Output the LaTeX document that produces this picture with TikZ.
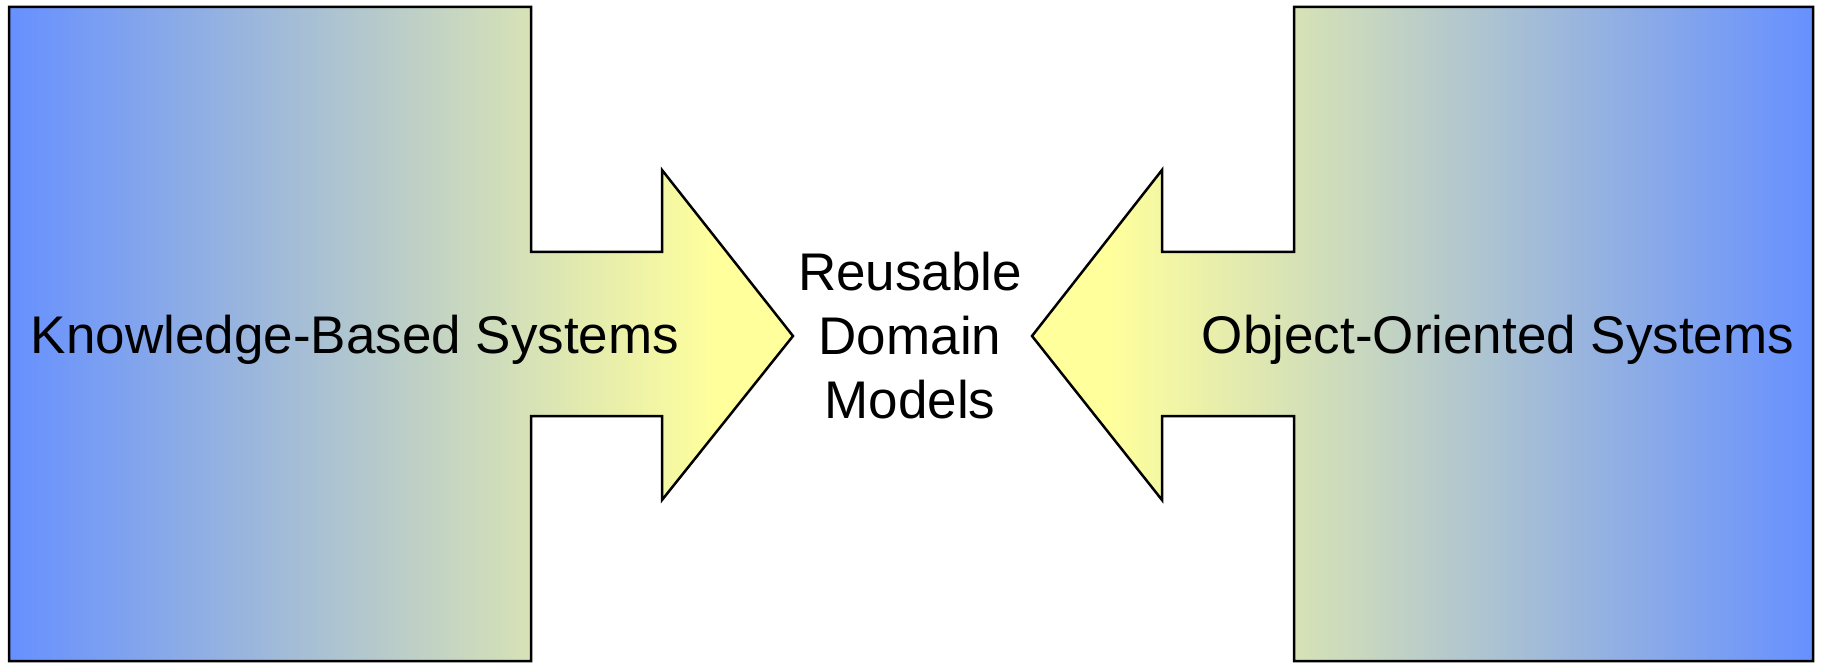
\documentclass[tikz,border=0pt]{standalone}
\usepackage{fontspec}
\setmainfont{Liberation Sans}
\definecolor{sysblue}{HTML}{6690FF}
\definecolor{sysyellow}{HTML}{FFFF9C}
% blue-to-yellow ramp that turns fully yellow just past the arrow neck
\pgfdeclarehorizontalshading{bluetoyellow}{100bp}{color(0bp)=(sysblue); color(25bp)=(sysblue);
  color(70bp)=(sysyellow); color(100bp)=(sysyellow)}
\pgfdeclarehorizontalshading{yellowtoblue}{100bp}{color(0bp)=(sysyellow); color(30bp)=(sysyellow);
  color(75bp)=(sysblue); color(100bp)=(sysblue)}
\begin{document}
\begin{tikzpicture}[x=0.5pt,y=-0.5pt,
  blockarrow/.style={draw=black,line width=1.25pt,line join=miter},
  label/.style={font=\fontsize{26.5pt}{32pt}\selectfont,inner sep=0pt,align=center}]
\useasboundingbox (0,0) rectangle (1821,663);
% left block arrow pointing right
\path[blockarrow,shading=bluetoyellow]
  (9,7) -- (531,7) -- (531,252) -- (662,252) -- (662,170) -- (793,336)
  -- (662,500) -- (662,416) -- (531,416) -- (531,661) -- (9,661) -- cycle;
% right block arrow pointing left
\path[blockarrow,shading=yellowtoblue]
  (1813,7) -- (1294,7) -- (1294,252) -- (1162,252) -- (1162,170) -- (1032,336)
  -- (1162,500) -- (1162,416) -- (1294,416) -- (1294,661) -- (1813,661) -- cycle;
\node[label,anchor=base] (kbs) at (355,354) {Knowledge-Based Systems};
\node[label,anchor=base] (oos) at (1498,354) {Object-Oriented Systems};
\node[label,anchor=base] (rdm) at (910,418) {Reusable\\Domain\\Models};
\end{tikzpicture}
\end{document}
